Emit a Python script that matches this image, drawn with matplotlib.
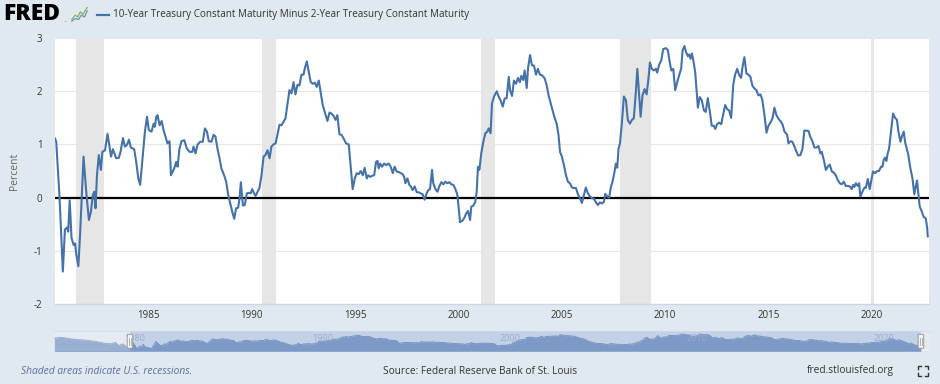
import numpy as np
import matplotlib
matplotlib.use("Agg")
import matplotlib.pyplot as plt
from matplotlib.lines import Line2D
from matplotlib.patches import FancyBboxPatch

plt.rcParams['font.family'] = ['Open Sans', 'DejaVu Sans']

# ------------------------------------------------------------------
# Data: 10y minus 2y spread (percent) (decimal years)
# ------------------------------------------------------------------
dates = [
    1980.49, 1980.55, 1980.71, 1980.87, 1980.97, 1981.08, 1981.13, 1981.20, 1981.29, 1981.39,
    1981.46, 1981.52, 1981.62, 1981.71, 1981.87, 1982.00, 1982.13, 1982.23, 1982.32, 1982.39,
    1982.45, 1982.52, 1982.61, 1982.71, 1982.78, 1982.91, 1983.03, 1983.20, 1983.29, 1983.45,
    1983.58, 1983.66, 1983.78, 1983.87, 1983.97, 1984.07, 1984.16, 1984.32, 1984.42, 1984.52,
    1984.61, 1984.74, 1984.84, 1984.94, 1985.03, 1985.16, 1985.26, 1985.32, 1985.39, 1985.45,
    1985.55, 1985.65, 1985.74, 1985.84, 1985.93, 1986.03, 1986.10, 1986.26, 1986.35, 1986.42,
    1986.51, 1986.61, 1986.74, 1986.87, 1987.00, 1987.13, 1987.19, 1987.29, 1987.38, 1987.51,
    1987.64, 1987.74, 1987.84, 1987.93, 1988.06, 1988.16, 1988.25, 1988.35, 1988.45, 1988.54,
    1988.67, 1988.77, 1988.87, 1988.96, 1989.06, 1989.16, 1989.25, 1989.35, 1989.42, 1989.48,
    1989.58, 1989.67, 1989.77, 1989.87, 1989.96, 1990.03, 1990.12, 1990.19, 1990.29, 1990.38,
    1990.48, 1990.58, 1990.67, 1990.77, 1990.87, 1990.96, 1991.06, 1991.16, 1991.25, 1991.35,
    1991.45, 1991.54, 1991.64, 1991.74, 1991.83, 1991.93, 1992.03, 1992.12, 1992.22, 1992.32,
    1992.41, 1992.51, 1992.57, 1992.67, 1992.77, 1992.86, 1992.96, 1993.06, 1993.15, 1993.25,
    1993.35, 1993.44, 1993.54, 1993.67, 1993.77, 1993.86, 1993.96, 1994.06, 1994.15, 1994.25,
    1994.35, 1994.44, 1994.57, 1994.70, 1994.80, 1994.89, 1994.99, 1995.09, 1995.18, 1995.28,
    1995.38, 1995.47, 1995.57, 1995.64, 1995.73, 1995.83, 1995.93, 1996.02, 1996.09, 1996.15,
    1996.22, 1996.31, 1996.41, 1996.51, 1996.63, 1996.73, 1996.83, 1996.92, 1997.02, 1997.12,
    1997.21, 1997.31, 1997.38, 1997.44, 1997.54, 1997.63, 1997.70, 1997.79, 1997.89, 1997.99,
    1998.08, 1998.18, 1998.28, 1998.37, 1998.47, 1998.54, 1998.63, 1998.73, 1998.79, 1998.89,
    1998.99, 1999.08, 1999.18, 1999.28, 1999.37, 1999.47, 1999.57, 1999.66, 1999.76, 1999.86,
    1999.95, 2000.02, 2000.08, 2000.18, 2000.28, 2000.37, 2000.47, 2000.57, 2000.63, 2000.73,
    2000.82, 2000.89, 2000.95, 2001.02, 2001.11, 2001.21, 2001.31, 2001.40, 2001.47, 2001.56,
    2001.63, 2001.73, 2001.86, 2001.95, 2002.05, 2002.15, 2002.24, 2002.34, 2002.44, 2002.50,
    2002.60, 2002.69, 2002.79, 2002.89, 2002.98, 2003.05, 2003.14, 2003.21, 2003.31, 2003.37,
    2003.47, 2003.56, 2003.66, 2003.76, 2003.85, 2003.95, 2004.05, 2004.18, 2004.27, 2004.37,
    2004.47, 2004.56, 2004.66, 2004.76, 2004.85, 2004.92, 2005.01, 2005.11, 2005.21, 2005.30,
    2005.40, 2005.50, 2005.59, 2005.69, 2005.79, 2005.88, 2005.98, 2006.08, 2006.17, 2006.27,
    2006.37, 2006.46, 2006.56, 2006.66, 2006.75, 2006.85, 2006.95, 2007.04, 2007.11, 2007.21,
    2007.30, 2007.37, 2007.46, 2007.56, 2007.62, 2007.69, 2007.75, 2007.82, 2007.91, 2008.01,
    2008.11, 2008.20, 2008.30, 2008.40, 2008.49, 2008.59, 2008.66, 2008.75, 2008.82, 2008.91,
    2009.01, 2009.11, 2009.20, 2009.27, 2009.36, 2009.46, 2009.56, 2009.62, 2009.72, 2009.82,
    2009.91, 2010.04, 2010.14, 2010.20, 2010.30, 2010.40, 2010.49, 2010.59, 2010.69, 2010.78,
    2010.85, 2010.94, 2011.01, 2011.10, 2011.17, 2011.23, 2011.30, 2011.36, 2011.46, 2011.52,
    2011.59, 2011.68, 2011.78, 2011.88, 2011.97, 2012.07, 2012.17, 2012.26, 2012.36, 2012.43,
    2012.52, 2012.62, 2012.72, 2012.81, 2012.91, 2013.01, 2013.10, 2013.20, 2013.30, 2013.39,
    2013.49, 2013.59, 2013.68, 2013.75, 2013.84, 2013.94, 2014.04, 2014.13, 2014.23, 2014.33,
    2014.42, 2014.52, 2014.62, 2014.71, 2014.81, 2014.91, 2015.00, 2015.10, 2015.20, 2015.29,
    2015.39, 2015.49, 2015.58, 2015.68, 2015.78, 2015.91, 2015.97, 2016.07, 2016.16, 2016.26,
    2016.36, 2016.45, 2016.55, 2016.65, 2016.74, 2016.84, 2016.94, 2017.03, 2017.13, 2017.23,
    2017.32, 2017.42, 2017.52, 2017.58, 2017.68, 2017.78, 2017.87, 2017.97, 2018.07, 2018.16,
    2018.26, 2018.36, 2018.45, 2018.55, 2018.65, 2018.74, 2018.84, 2018.94, 2019.03, 2019.10,
    2019.16, 2019.23, 2019.32, 2019.39, 2019.45, 2019.55, 2019.65, 2019.71, 2019.81, 2019.90,
    2019.97, 2020.06, 2020.16, 2020.26, 2020.35, 2020.45, 2020.52, 2020.58, 2020.64, 2020.71,
    2020.77, 2020.84, 2020.93, 2021.03, 2021.13, 2021.22, 2021.29, 2021.39, 2021.45, 2021.55,
    2021.61, 2021.68, 2021.77, 2021.87, 2021.97, 2022.06, 2022.13, 2022.19, 2022.26, 2022.32,
    2022.42, 2022.51, 2022.61, 2022.68, 2022.71,
]
spread = [
    1.11, 1.05, 0.00, -1.39, -0.60, -0.56, -0.64, -0.05, -0.76, -0.89,
    -0.86, -1.07, -1.29, -0.64, 0.77, 0.11, -0.42, -0.26, 0.05, 0.11,
    -0.20, 0.42, 0.80, 0.52, 0.86, 0.89, 1.20, 0.77, 0.91, 0.74,
    0.75, 0.86, 1.12, 0.96, 0.99, 1.09, 0.94, 0.91, 0.67, 0.36,
    0.24, 0.80, 1.24, 1.52, 1.27, 1.24, 1.39, 1.33, 1.52, 1.55,
    1.36, 1.44, 1.27, 1.14, 1.02, 1.06, 0.42, 0.55, 0.67, 0.58,
    0.92, 1.06, 1.08, 0.92, 0.86, 0.86, 0.96, 0.83, 0.99, 1.05,
    1.05, 1.30, 1.24, 1.06, 1.05, 1.18, 1.15, 0.92, 0.74, 0.55,
    0.42, 0.30, 0.05, -0.10, -0.26, -0.40, -0.20, -0.19, -0.01, 0.29,
    -0.15, -0.14, 0.08, 0.09, 0.08, 0.16, 0.08, 0.03, 0.11, 0.18,
    0.42, 0.77, 0.80, 0.89, 0.74, 0.96, 1.00, 1.02, 1.18, 1.37,
    1.36, 1.42, 1.49, 1.77, 2.02, 1.96, 2.17, 1.94, 2.12, 2.11,
    2.31, 2.31, 2.42, 2.56, 2.36, 2.17, 2.14, 2.16, 2.08, 2.20,
    1.96, 1.74, 1.61, 1.44, 1.60, 1.58, 1.54, 1.46, 1.55, 1.19,
    1.18, 1.12, 1.02, 1.00, 0.55, 0.16, 0.36, 0.46, 0.44, 0.50,
    0.42, 0.56, 0.36, 0.42, 0.39, 0.41, 0.42, 0.67, 0.69, 0.55,
    0.64, 0.58, 0.64, 0.61, 0.64, 0.58, 0.46, 0.58, 0.49, 0.48,
    0.46, 0.44, 0.39, 0.27, 0.36, 0.24, 0.21, 0.14, 0.21, 0.10,
    0.10, 0.08, 0.06, -0.04, 0.08, 0.14, 0.16, 0.52, 0.27, 0.16,
    0.11, 0.21, 0.29, 0.25, 0.30, 0.27, 0.29, 0.25, 0.24, 0.16,
    0.06, -0.20, -0.46, -0.44, -0.39, -0.31, -0.25, -0.42, -0.17, -0.15,
    -0.08, 0.11, 0.58, 0.52, 0.83, 1.05, 1.21, 1.24, 1.30, 1.21,
    1.77, 1.90, 2.00, 1.90, 1.82, 1.71, 1.86, 1.87, 2.27, 2.02,
    1.91, 2.20, 2.14, 2.25, 2.17, 2.29, 2.21, 2.39, 2.06, 2.42,
    2.68, 2.49, 2.48, 2.31, 2.42, 2.31, 2.30, 2.24, 2.12, 1.92,
    1.77, 1.64, 1.50, 1.39, 1.17, 0.86, 0.77, 0.61, 0.42, 0.30,
    0.27, 0.19, 0.18, 0.18, 0.06, -0.01, -0.10, 0.05, 0.19, 0.08,
    0.02, -0.01, -0.02, -0.09, -0.14, -0.09, -0.11, -0.08, 0.07, 0.02,
    0.00, 0.18, 0.30, 0.49, 0.64, 0.56, 0.92, 1.02, 1.39, 1.90,
    1.83, 1.46, 1.39, 1.46, 1.49, 1.99, 2.42, 1.92, 1.52, 1.92,
    2.04, 1.94, 2.24, 2.54, 2.42, 2.39, 2.42, 2.35, 2.50, 2.58,
    2.79, 2.81, 2.77, 2.61, 2.39, 2.42, 2.02, 2.17, 2.31, 2.42,
    2.77, 2.85, 2.74, 2.66, 2.69, 2.61, 2.71, 2.60, 2.36, 2.05,
    1.69, 1.89, 1.83, 1.64, 1.61, 1.87, 1.61, 1.35, 1.35, 1.29,
    1.38, 1.41, 1.38, 1.55, 1.74, 1.66, 1.64, 1.50, 2.12, 2.31,
    2.42, 2.30, 2.25, 2.46, 2.64, 2.33, 2.31, 2.27, 2.10, 2.05,
    2.02, 1.92, 1.94, 1.83, 1.55, 1.22, 1.35, 1.41, 1.49, 1.69,
    1.55, 1.48, 1.44, 1.38, 1.24, 1.18, 1.02, 1.06, 1.05, 0.96,
    0.86, 0.79, 0.80, 0.92, 1.26, 1.26, 1.25, 1.14, 1.06, 0.94,
    0.94, 0.97, 0.83, 0.86, 0.71, 0.52, 0.58, 0.62, 0.49, 0.47,
    0.42, 0.33, 0.27, 0.25, 0.30, 0.22, 0.22, 0.21, 0.16, 0.24,
    0.20, 0.27, 0.22, 0.27, 0.02, 0.11, 0.19, 0.18, 0.35, 0.16,
    0.30, 0.49, 0.46, 0.50, 0.50, 0.58, 0.58, 0.71, 0.75, 0.69,
    0.83, 0.92, 1.24, 1.58, 1.50, 1.46, 1.24, 1.05, 1.14, 1.24,
    1.05, 0.94, 0.80, 0.55, 0.36, 0.06, 0.21, 0.32, 0.05, -0.17,
    -0.26, -0.36, -0.39, -0.56, -0.73,
]

# earlier part of the series, only visible in the navigator strip
early_dates = [1976.45, 1976.8, 1977.1, 1977.6, 1978.1, 1978.6, 1979.1,
               1979.5, 1979.7, 1979.9, 1980.1, 1980.4]
early_spread = [1.7, 1.9, 1.7, 1.3, 1.15, 0.8, 0.3, 0.1, 0.5, -0.4, 0.1, -1.2]

# recession bands (start, end)
rec_start = [1981.52, 1990.51, 2001.11, 2007.82, 2019.97]
rec_end = [1982.86, 1991.16, 2001.76, 2009.32, 2020.12]

year_ticks = [1985, 1990, 1995, 2000, 2005, 2010, 2015, 2020]
nav_ticks = [1980, 1990, 2000, 2010, 2020]

series_name = '10-Year Treasury Constant Maturity Minus 2-Year Treasury Constant Maturity'

# ------------------------------------------------------------------
# Style
# ------------------------------------------------------------------
bg = '#e1e9f0'
line_col = '#4572a7'
W, H = 940., 384.


def fx(px):
    return px / W


def fy(py):
    return 1 - py / H


fig = plt.figure(figsize=(9.4, 3.84), dpi=100, facecolor=bg)

# main plot
ax = fig.add_axes([fx(55), fy(304), fx(929) - fx(55), fy(38) - fy(304)])
ax.set_facecolor('white')
for s0, s1 in zip(rec_start, rec_end):
    ax.axvspan(s0, s1, color='#e6e6e6', lw=0, zorder=1)
ax.axhline(0, color='black', lw=1.6, zorder=3)
ax.plot(dates, spread, color=line_col, lw=1.5, zorder=4, solid_joinstyle='round')

ax.set_xlim(1980.49, 2022.77)
ax.set_ylim(-2, 3)
ax.set_yticks([-2, -1, 0, 1, 2, 3])
ax.set_yticklabels(['-2', '-1', '0', '1', '2', '3'])
ax.set_xticks(year_ticks)
ax.set_xticklabels([str(y) for y in year_ticks])
ax.grid(axis='y', color='#e6e6e6', lw=0.8, zorder=0)
ax.set_axisbelow(True)
ax.tick_params(axis='both', length=0, labelsize=7, labelcolor='#333333')
ax.tick_params(axis='y', pad=9)
ax.tick_params(axis='x', pad=4)
for side in ['top', 'right', 'left']:
    ax.spines[side].set_visible(False)
ax.spines['bottom'].set_color('#ccd6eb')
ax.spines['bottom'].set_linewidth(1)

fig.text(fx(14.5), fy(171), 'Percent', rotation=90, ha='center', va='center',
         fontsize=7.5, color='#666666')

# navigator strip
nav = fig.add_axes([fx(54.3), fy(351.3), fx(929) - fx(54.3), fy(331.3) - fy(351.3)])
nav.set_facecolor('#dfe6ee')
all_dates = early_dates + dates
all_spread = early_spread + spread
nav.set_xlim(1976.45, 2023.14)
nav.set_ylim(-2.0, 3.6)
nav.axvspan(dates[0], dates[-1], color='#c3d1e6', lw=0, zorder=0)
nav.fill_between(all_dates, -2.0, all_spread, color='#7d9ac6', lw=0, zorder=1)
nav.plot(all_dates, all_spread, color='#6f8fc0', lw=0.6, zorder=2)
nav.axvspan(1976.45, dates[0], color='white', alpha=0.22, lw=0, zorder=3)
nav.axvspan(dates[-1], 2023.14, color='white', alpha=0.22, lw=0, zorder=3)
nav.set_xticks([])
nav.set_yticks([])
for side in ['bottom', 'right', 'left']:
    nav.spines[side].set_visible(False)
nav.spines['top'].set_color('#ccd6eb')
nav.spines['top'].set_linewidth(0.8)
for yr in nav_ticks:
    nav.text(yr + 0.2, 0.62, str(yr), transform=nav.get_xaxis_transform(),
             fontsize=6.5, color='#9aaccc', ha='left', va='center', zorder=4)
for hx in [dates[0], dates[-1]]:
    handle = FancyBboxPatch((hx - 0.15, 0.15), 0.30, 0.7, boxstyle='round,pad=0,rounding_size=0.05',
                            transform=nav.get_xaxis_transform(), facecolor='#f2f2f2',
                            edgecolor='#999999', lw=0.7, zorder=6, clip_on=False)
    nav.add_patch(handle)
    for dx in (-0.05, 0.05):
        nav.plot([hx + dx, hx + dx], [0.32, 0.68], transform=nav.get_xaxis_transform(),
                 color='#999999', lw=0.5, zorder=7, clip_on=False)

# header: logo and series name
fig.text(fx(3), fy(13.5), 'FRED', fontsize=16.5, fontweight='heavy', color='black',
         ha='left', va='center')
fig.text(fx(64), fy(20), '.', fontsize=5, color='#555555', ha='left', va='center')
icon = fig.add_axes([fx(71), fy(22), fx(17), fy(5) - fy(22)])
icon.set_facecolor('#dfe6ee')
icon.plot([0.05, 0.25, 0.4, 0.55, 0.7, 0.95], [0.15, 0.4, 0.3, 0.6, 0.45, 0.85], color='#7db55a', lw=0.9)
icon.plot([0.05, 0.25, 0.45, 0.6, 0.8, 0.95], [0.05, 0.2, 0.15, 0.4, 0.3, 0.65], color='#6f8fc0', lw=0.9)
icon.set_xlim(0, 1)
icon.set_ylim(0, 1)
icon.axis('off')

fig.add_artist(Line2D([fx(97), fx(109)], [fy(15), fy(15)], color=line_col, lw=1.6))
fig.text(fx(113), fy(15), series_name, fontsize=7.1, color='#333333', ha='left', va='center')

# footer
fig.text(fx(21), fy(371), 'Shaded areas indicate U.S. recessions.', fontsize=7.4,
         style='italic', color='#5d6e9e', ha='left', va='center')
fig.text(fx(480), fy(371), 'Source: Federal Reserve Bank of St. Louis', fontsize=7.3,
         color='#333333', ha='center', va='center')
fig.text(fx(894), fy(371), 'fred.stlouisfed.org', fontsize=7.3, color='#333333',
         ha='right', va='center')

# full-screen icon
x0, x1, y0, y1, c = 918, 928, 366, 376, 3
for (cx, cy, sx, sy) in [(x0, y0, 1, 1), (x1, y0, -1, 1), (x0, y1, 1, -1), (x1, y1, -1, -1)]:
    fig.add_artist(Line2D([fx(cx), fx(cx), fx(cx + sx * c)], [fy(cy + sy * c), fy(cy), fy(cy)],
                          color='#333333', lw=1))

fig.savefig('out.png', dpi=100, facecolor=bg)
